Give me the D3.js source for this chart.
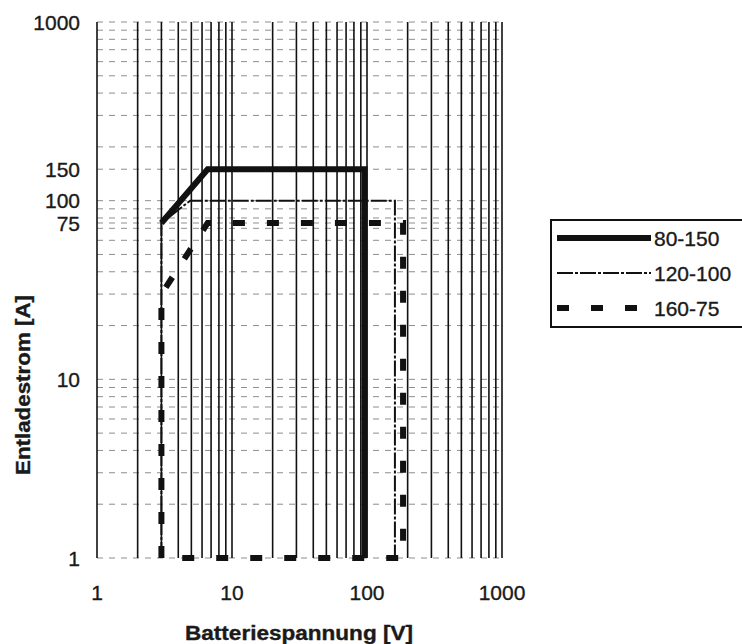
<!DOCTYPE html>
<html lang="de">
<head>
    <meta charset="UTF-8">
    <title>Entladestrom über Batteriespannung</title>
    <style>
        body, html {
            margin: 0;
            padding: 0;
            background: #fff;
        }
        svg text {
            font-family: "Liberation Sans", Arial, sans-serif;
            fill: #1a1a1a;
            stroke: #1a1a1a;
            stroke-width: 0.35;
        }
        .grid-v line {
            stroke: #111;
            stroke-width: 1.6;
        }
        .grid-h line {
            stroke: #444;
            stroke-width: 1;
            stroke-dasharray: 6, 6;
            opacity: 0.6;
        }
    </style>
    <script src="https://d3js.org/d3.v7.min.js"></script>
</head>
<body>
<div id="chart"></div>
<script>
    // Achsen (log-log)
    const xDomain = [1, 1000];
    const yDomain = [1, 1000];
    const xTickLabels = [1, 10, 100, 1000];
    const yTickLabels = [1, 10, 75, 100, 150, 1000];
    const yExtraGrid = [75, 150];

    // Kennlinien: [Spannung V, Strom A]
    const series80 = [[3, 75], [6.6, 150], [96, 150], [96, 1]];
    const series120 = [[3, 1], [3, 75], [4.9, 100], [161, 100], [161, 1]];
    const series160 = [[3, 1], [3, 30], [6.6, 75], [185, 75], [185, 1], [3, 1]];

    const seriesNames = ["80-150", "120-100", "160-75"];

    const width = 742, height = 644;
    const plot = { left: 97, right: 502, top: 22, bottom: 558 };

    const svg = d3.select("#chart").append("svg")
        .attr("width", width)
        .attr("height", height);

    const x = d3.scaleLog().domain(xDomain).range([plot.left, plot.right]);
    const y = d3.scaleLog().domain(yDomain).range([plot.bottom, plot.top]);

    // horizontale Gitterlinien (gestrichelt)
    svg.append("g").attr("class", "grid-h")
        .selectAll("line")
        .data(y.ticks().concat(yExtraGrid))
        .join("line")
        .attr("x1", plot.left).attr("x2", plot.right)
        .attr("y1", d => y(d)).attr("y2", d => y(d));

    // vertikale Gitterlinien
    svg.append("g").attr("class", "grid-v")
        .selectAll("line")
        .data(x.ticks())
        .join("line")
        .attr("x1", d => x(d)).attr("x2", d => x(d))
        .attr("y1", plot.top).attr("y2", plot.bottom);

    const line = d3.line().x(d => x(d[0])).y(d => y(d[1]));

    const styles = [
        { width: 6, dash: null },
        { width: 2, dash: "16,2,3,2" },
        { width: 6, dash: "12,22" }
    ];

    [series80, series120, series160].forEach((s, i) => {
        svg.append("path")
            .datum(s)
            .attr("d", line)
            .attr("fill", "none")
            .attr("stroke", "#111")
            .attr("stroke-width", styles[i].width)
            .attr("stroke-dasharray", styles[i].dash)
            .attr("stroke-linejoin", "miter");
    });

    // Achsenbeschriftung
    svg.append("g")
        .selectAll("text")
        .data(yTickLabels)
        .join("text")
        .attr("x", 80)
        .attr("y", d => y(d))
        .attr("dy", "0.36em")
        .attr("text-anchor", "end")
        .attr("font-size", 21)
        .text(d => d);

    svg.append("g")
        .selectAll("text")
        .data(xTickLabels)
        .join("text")
        .attr("x", d => x(d))
        .attr("y", 600)
        .attr("text-anchor", "middle")
        .attr("font-size", 21)
        .text(d => d);

    svg.append("text")
        .attr("x", 299)
        .attr("y", 640)
        .attr("text-anchor", "middle")
        .attr("font-size", 20)
        .attr("font-weight", "bold")
        .attr("textLength", 228)
        .attr("lengthAdjust", "spacingAndGlyphs")
        .text("Batteriespannung [V]");

    svg.append("text")
        .attr("transform", "translate(30, 385) rotate(-90)")
        .attr("text-anchor", "middle")
        .attr("font-size", 20)
        .attr("font-weight", "bold")
        .attr("textLength", 180)
        .attr("lengthAdjust", "spacingAndGlyphs")
        .text("Entladestrom [A]");

    // Legende
    const legend = svg.append("g").attr("transform", "translate(551, 220)");
    legend.append("rect")
        .attr("width", 220)
        .attr("height", 107)
        .attr("fill", "#fff")
        .attr("stroke", "#111")
        .attr("stroke-width", 2);

    seriesNames.forEach((name, i) => {
        const row = legend.append("g")
            .attr("transform", `translate(0, ${18 + i * 35})`);
        row.append("line")
            .attr("x1", 6).attr("x2", i === 2 ? 92 : 100)
            .attr("stroke", "#111")
            .attr("stroke-width", styles[i].width)
            .attr("stroke-dasharray", styles[i].dash);
        row.append("text")
            .attr("x", 103)
            .attr("dy", "0.36em")
            .attr("font-size", 21)
            .text(name);
    });
</script>
</body>
</html>
